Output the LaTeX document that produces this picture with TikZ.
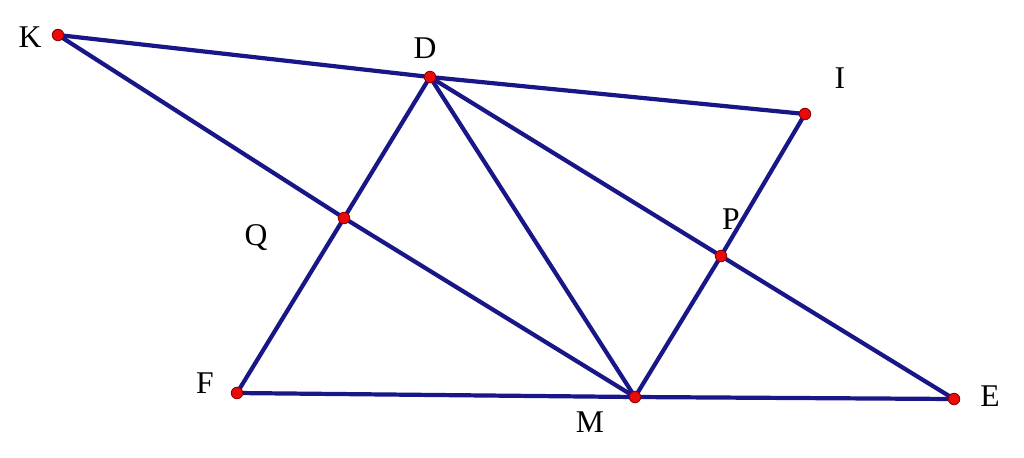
\documentclass[tikz,border=0pt]{standalone}
\usepackage{fontspec}
\setmainfont{Liberation Serif}
\definecolor{segblue}{RGB}{25,22,135}
\definecolor{ptred}{RGB}{235,10,10}
\tikzset{
  seg/.style = {draw = segblue, line width = 2.4pt},
  pt/.style = {circle, draw = red!55!black, fill = ptred, inner sep = 0pt,
    minimum size = 0.23cm, line width = 0.5pt},
  lbl/.style = {font = \fontsize{18}{20}\selectfont, inner sep = 0pt}
}
\begin{document}
\begin{tikzpicture}[x=0.02cm, y=-0.02cm]
\useasboundingbox (0,0) rectangle (1024,457);
% points
\coordinate (K) at (58,35);
\coordinate (D) at (430,77);
\coordinate (I) at (805,114);
\coordinate (Q) at (344,218);
\coordinate (P) at (721,256);
\coordinate (F) at (237,393);
\coordinate (M) at (635,397);
\coordinate (E) at (954,399);

% segments
\draw[seg] (K) -- (D) -- (I);
\draw[seg] (K) -- (Q) -- (M);
\draw[seg] (D) -- (Q) -- (F);
\draw[seg] (D) -- (M);
\draw[seg] (D) -- (P) -- (E);
\draw[seg] (I) -- (P) -- (M);
\draw[seg] (F) -- (M) -- (E);

% dots
\foreach \p in {K,D,I,Q,P,F,M,E}
  \node[pt] (dot\p) at (\p) {};

% labels
\node[lbl] (lK) at (30,37) {K};
\node[lbl] (lD) at (425,48) {D};
\node[lbl] (lI) at (840,78) {I};
\node[lbl] (lQ) at (256,238) {Q};
\node[lbl] (lP) at (731,219) {P};
\node[lbl] (lF) at (205,383) {F};
\node[lbl] (lM) at (590,422) {M};
\node[lbl] (lE) at (990,396) {E};
\end{tikzpicture}
\end{document}
